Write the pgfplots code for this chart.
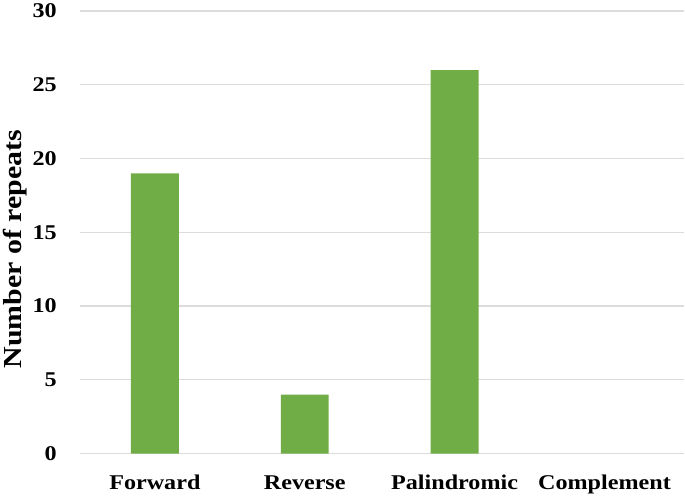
\documentclass[border=0pt]{standalone}
\usepackage{pgfplots}
\pgfplotsset{compat=1.18}
\usepackage{fontspec}
\setmainfont{Liberation Serif}[FakeStretch=1.15]
\definecolor{barGreen}{HTML}{70AD47}
\definecolor{gridGray}{HTML}{DCDCDC}
\begin{document}
\begin{tikzpicture}
\begin{axis}[
    scale only axis,
    width=605pt, height=443pt,
    ybar, bar width=48pt,
    xmin=-0.5, xmax=3.533,
    ymin=0, ymax=30,
    xtick={0,1,2,3},
    xticklabels={Forward, Reverse, Palindromic, Complement},
    ytick={0,5,10,15,20,25,30},
    axis line style={draw=none},
    major tick length=0pt,
    ymajorgrids,
    grid style={gridGray, line width=1.3pt},
    tick label style={font=\fontsize{21}{24}\selectfont\bfseries, inner sep=0pt},
    /pgf/number format/assume math mode=true,
    yticklabel style={xshift=-23pt},
    xticklabel style={yshift=-21pt, text height=15pt, text depth=5pt},
    ylabel={Number of repeats},
    every axis y label/.style={at={(rel axis cs:0,0.5)}, rotate=90,
        anchor=center, inner sep=0pt, yshift=65pt, xshift=-17pt,
        font=\fontsize{26}{28}\selectfont\bfseries},
    clip=false,
]
\addplot[fill=barGreen, draw=none, bar shift=0pt] coordinates {(0,19) (1,4) (2,26)};
\end{axis}
\path (current axis.south west) ++(-80pt,-44pt) rectangle ++(685pt,498pt);
\end{tikzpicture}
\end{document}
